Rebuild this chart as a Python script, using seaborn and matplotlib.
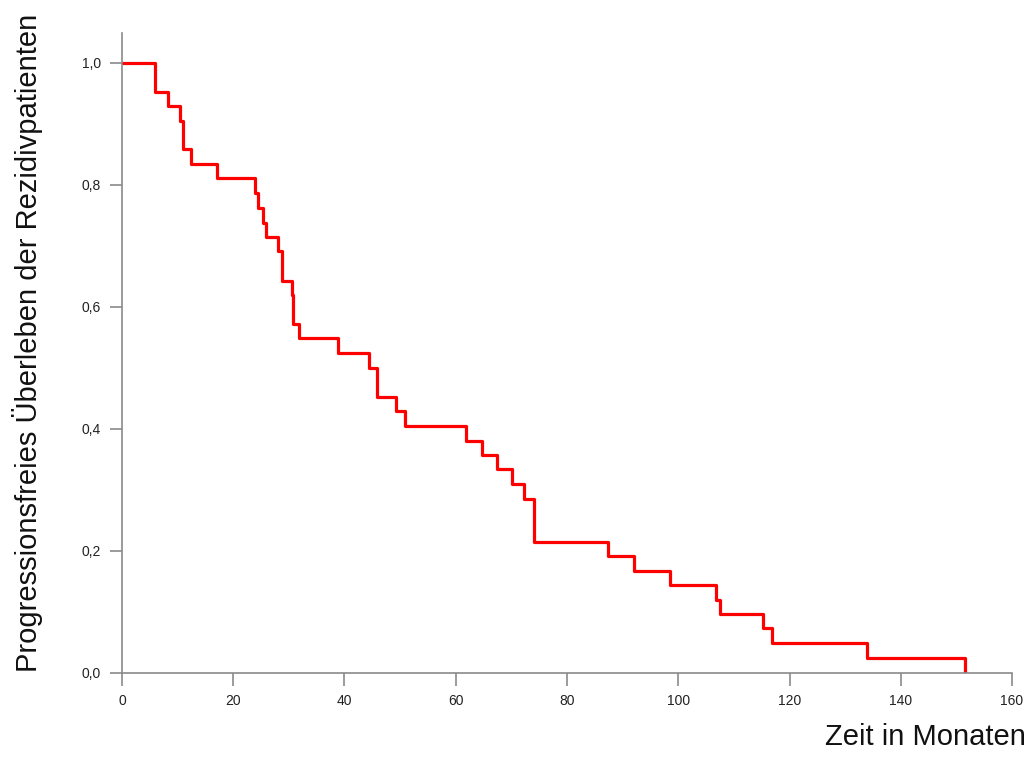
import matplotlib
matplotlib.use("Agg")
import matplotlib.pyplot as plt
import seaborn as sns
import pandas as pd
from matplotlib.ticker import FuncFormatter

# Kaplan-Meier estimate: event times (months) and survival after each step
zeit_monate = [0, 5.9, 8.2, 10.4, 11.0, 12.4, 17.1, 23.9, 24.4, 25.4, 25.9,
               28.1, 28.7, 30.6, 30.8, 31.8, 38.8, 44.4, 45.8, 49.2, 50.9,
               61.8, 64.7, 67.4, 70.1, 72.3, 74.1, 87.4, 92.0, 98.5, 106.8,
               107.5, 115.2, 116.9, 133.9, 151.6]
ueberleben = [1.0, 0.953, 0.930, 0.905, 0.859, 0.834, 0.811, 0.787, 0.762,
              0.738, 0.715, 0.692, 0.643, 0.620, 0.572, 0.549, 0.525, 0.500,
              0.452, 0.430, 0.405, 0.381, 0.358, 0.335, 0.310, 0.286, 0.215,
              0.192, 0.167, 0.144, 0.120, 0.097, 0.073, 0.049, 0.025, 0.0]

x_ticks = [0, 20, 40, 60, 80, 100, 120, 140, 160]
y_ticks = [0.0, 0.2, 0.4, 0.6, 0.8, 1.0]

df = pd.DataFrame({"zeit": zeit_monate, "pfs": ueberleben})

sns.set_style("white")
plt.rcParams["font.family"] = ["Liberation Sans", "DejaVu Sans"]

fig = plt.figure(figsize=(10.31, 7.62), dpi=100)
ax = fig.add_axes([0.1183, 0.1168, 0.8633, 0.8399])

sns.lineplot(data=df, x="zeit", y="pfs", ax=ax, color="#ff0000",
             linewidth=2.3, drawstyle="steps-post", estimator=None)

ax.set_xlim(0, 160)
ax.set_ylim(0, 1.049)
ax.set_xticks(x_ticks)
ax.set_yticks(y_ticks)
ax.yaxis.set_major_formatter(FuncFormatter(lambda v, _: f"{v:.1f}".replace(".", ",")))

for side in ("top", "right"):
    ax.spines[side].set_visible(False)
for side in ("left", "bottom"):
    ax.spines[side].set_color("#8a8a8a")
    ax.spines[side].set_linewidth(1.2)

ax.tick_params(axis="both", direction="out", length=9, width=1.2,
               bottom=True, left=True,
               color="#8a8a8a", labelsize=10, labelcolor="#222222", pad=6)

ax.set_xlabel("")
ax.set_ylabel("")

fig.text(0.995, 0.015, "Zeit in Monaten", ha="right", va="bottom",
         fontsize=21, color="#111111")
fig.text(0.012, 0.55, "Progressionsfreies Überleben der Rezidivpatienten",
         ha="left", va="center", rotation=90, fontsize=21, color="#111111")

fig.savefig("out.png", dpi=100, facecolor="white")
